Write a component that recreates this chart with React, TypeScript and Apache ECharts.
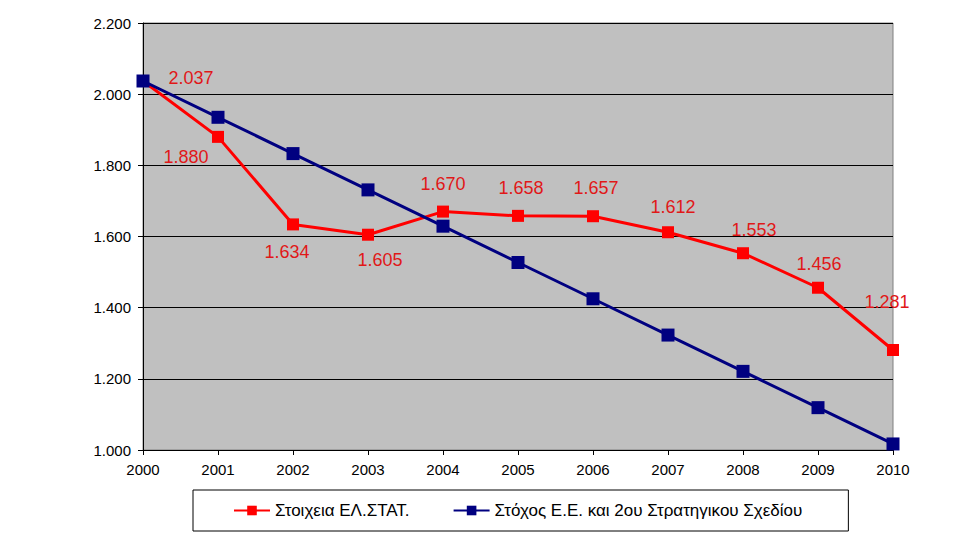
import React, { useEffect, useRef } from "react";
import * as echarts from "echarts";

const years = ["2000", "2001", "2002", "2003", "2004", "2005", "2006", "2007", "2008", "2009", "2010"];
const elstatValues = [2037, 1880, 1634, 1605, 1670, 1658, 1657, 1612, 1553, 1456, 1281];
const targetValues = [2037, 1935, 1833, 1731, 1629, 1527, 1425, 1323, 1221, 1119, 1017];
const seriesNames = ["Στοιχεια ΕΛ.ΣΤΑΤ.", "Στόχος Ε.Ε. και 2ου Στρατηγικου Σχεδίου"];
// label offsets (style only)
const labelOffsets: [number, number][] = [
  [48, -3], [-32, 20], [-6, 28], [12, 25], [0, -28], [3, -28], [3, -28], [5, -25], [11, -23], [1, -24], [-6, -48],
];

const fmt = (v: number) => {
  const s = String(Math.round(v));
  return s.length > 3 ? s.slice(0, s.length - 3) + "." + s.slice(-3) : s;
};

export default function App() {
  const ref = useRef<HTMLDivElement>(null);
  useEffect(() => {
    if (!ref.current) return;
    const chart = echarts.init(ref.current, null, { renderer: "svg" });
    const font = "Liberation Sans, Arial, sans-serif";
    chart.setOption({
      animation: false,
      backgroundColor: "#ffffff",
      textStyle: { fontFamily: font },
      grid: {
        left: 143,
        right: 83,
        top: 23,
        bottom: 94,
        show: true,
        backgroundColor: "#C0C0C0",
        borderColor: "#808080",
        borderWidth: 1,
      },
      xAxis: {
        type: "category",
        data: years,
        boundaryGap: false,
        axisLine: { lineStyle: { color: "#000", width: 1 } },
        axisTick: { show: true, length: 5, lineStyle: { color: "#000" } },
        axisLabel: { color: "#000", fontSize: 15, fontFamily: font, margin: 12 },
        splitLine: { show: false },
      },
      yAxis: {
        type: "value",
        min: 1000,
        max: 2200,
        interval: 200,
        axisLine: { show: true, lineStyle: { color: "#000", width: 1 } },
        axisTick: { show: true, length: 5, lineStyle: { color: "#000" } },
        axisLabel: { color: "#000", fontSize: 15, fontFamily: font, margin: 12, formatter: (v: number) => fmt(v) },
        splitLine: { show: true, lineStyle: { color: "#000", width: 1 } },
      },
      legend: {
        left: 193,
        top: 490,
        itemWidth: 36,
        itemHeight: 12,
        itemGap: 43,
        padding: [12, 46, 12, 40],
        borderColor: "#000",
        borderWidth: 1,
        backgroundColor: "#fff",
        textStyle: { color: "#000", fontSize: 17, fontFamily: font },
        data: seriesNames,
      },
      series: [
        {
          name: seriesNames[0],
          type: "line",
          data: elstatValues.map((v, i) => ({
            value: v,
            label: { offset: labelOffsets[i] },
          })),
          symbol: "rect",
          symbolSize: 12,
          lineStyle: { color: "#FF0000", width: 3 },
          itemStyle: { color: "#FF0000" },
          label: {
            show: true,
            position: "inside",
            color: "#E01818",
            fontSize: 18,
            fontFamily: font,
            formatter: (p: any) => fmt(p.value),
          },
          z: 2,
        },
        {
          name: seriesNames[1],
          type: "line",
          data: targetValues,
          symbol: "rect",
          symbolSize: 13,
          lineStyle: { color: "#000080", width: 3 },
          itemStyle: { color: "#000080" },
          z: 3,
        },
      ],
    });
    return () => chart.dispose();
  }, []);
  return <div ref={ref} style={{ position: "fixed", left: 0, top: 0, width: 976, height: 544 }} />;
}
